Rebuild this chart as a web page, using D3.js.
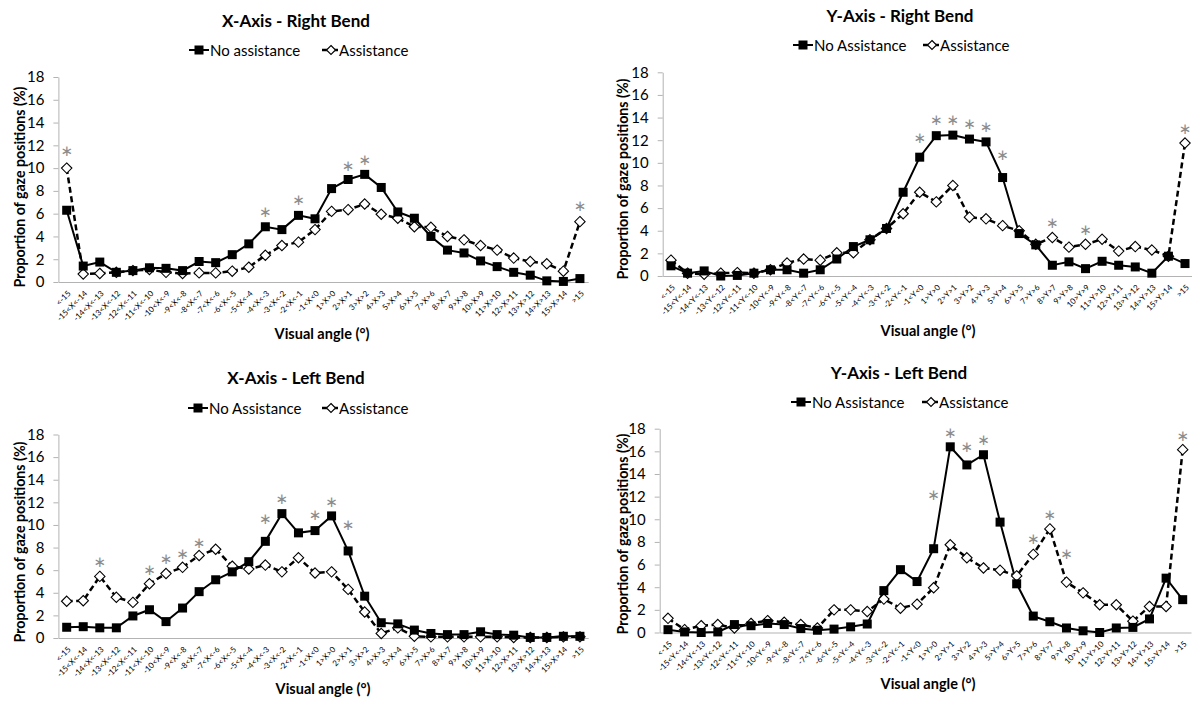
<!DOCTYPE html>
<html><head><meta charset="utf-8">
<script src="https://cdn.jsdelivr.net/npm/d3@7"></script>
<style>body{margin:0;background:#fff}svg{display:block}</style>
</head><body>
<svg id="chart" width="1192" height="701"></svg>
<script>
// ---------- DATA ----------
const xLabels = ["<-15","-15<X<-14","-14<X<-13","-13<X<-12","-12<X<-11","-11<X<-10","-10<X<-9","-9<X<-8","-8<X<-7","-7<X<-6","-6<X<-5","-5<X<-4","-4<X<-3","-3<X<-2","-2<X<-1","-1<X<0","1>X>0","2>X>1","3>X>2","4>X>3","5>X>4","6>X>5","7>X>6","8>X>7","9>X>8","10>X>9","11>X>10","12>X>11","13>X>12","14>X>13","15>X>14",">15"];
const yLabels = ["<-15","-15<Y<-14","-14<Y<-13","-13<Y<-12","-12<Y<-11","-11<Y<-10","-10<Y<-9","-9<Y<-8","-8<Y<-7","-7<Y<-6","-6<Y<-5","-5<Y<-4","-4<Y<-3","-3<Y<-2","-2<Y<-1","-1<Y<0","1>Y>0","2>Y>1","3>Y>2","4>Y>3","5>Y>4","6>Y>5","7>Y>6","8>Y>7","9>Y>8","10>Y>9","11>Y>10","12>Y>11","13>Y>12","14>Y>13","15>Y>14",">15"];
const yTicks = [0,2,4,6,8,10,12,14,16,18];

const titles = ["X-Axis - Right Bend","Y-Axis - Right Bend","X-Axis - Left Bend","Y-Axis - Left Bend"];
const legendNoAssist = ["No assistance","No Assistance","No Assistance","No Assistance"];
const legendAssist = ["Assistance","Assistance","Assistance","Assistance"];
const yAxisTitle = "Proportion of gaze positions (%)";
const xAxisTitle = "Visual angle (°)";

// X-Axis - Right Bend
const xRightNo = [6.3,1.4,1.75,0.85,1.0,1.25,1.2,1.0,1.8,1.7,2.4,3.35,4.85,4.6,5.85,5.55,8.2,9.0,9.45,8.3,6.15,5.6,4.0,2.8,2.55,1.85,1.35,0.85,0.6,0.1,0.05,0.3];
const xRightAs = [10.0,0.7,0.75,0.85,1.0,1.1,0.85,0.75,0.8,0.8,0.95,1.3,2.35,3.2,3.5,4.6,6.2,6.35,6.85,5.95,5.6,4.85,4.8,4.0,3.7,3.2,2.8,2.1,1.8,1.6,0.95,5.3];
const xRightStarIdx = [0,12,14,17,18,31];
const xRightStarVal = [11.5,6.2,7.2,10.25,10.75,6.7];

// Y-Axis - Right Bend
const yRightNo = [0.9,0.25,0.45,0.0,0.05,0.25,0.55,0.55,0.25,0.55,1.5,2.6,3.2,4.2,7.4,10.5,12.4,12.45,12.1,11.85,8.7,3.75,2.75,0.95,1.25,0.65,1.3,0.95,0.8,0.25,1.75,1.1];
const yRightAs = [1.4,0.25,0.15,0.25,0.3,0.25,0.55,1.15,1.5,1.4,2.05,2.05,3.2,4.2,5.5,7.4,6.55,8.0,5.2,5.05,4.45,4.0,2.8,3.4,2.55,2.8,3.25,2.2,2.6,2.3,1.75,11.75];
const yRightStarIdx = [15,16,17,18,19,20,23,25,31];
const yRightStarVal = [12.25,13.85,13.85,13.45,13.2,10.7,4.75,4.1,13.0];

// X-Axis - Left Bend
const xLeftNo = [0.95,1.0,0.9,0.9,1.95,2.5,1.45,2.65,4.1,5.15,5.85,6.75,8.55,11.0,9.3,9.5,10.8,7.7,3.7,1.35,1.25,0.7,0.4,0.3,0.3,0.55,0.3,0.25,0.05,0.05,0.15,0.15];
const xLeftAs = [3.25,3.3,5.45,3.6,3.15,4.8,5.7,6.25,7.3,7.85,6.35,6.1,6.45,5.85,7.1,5.75,5.85,4.3,2.3,0.4,0.9,0.15,0.1,0.1,0.1,0.1,0.1,0.05,0.05,0.05,0.1,0.1];
const xLeftStarIdx = [2,5,6,7,8,12,13,15,16,17];
const xLeftStarVal = [6.8,6.05,7.05,7.5,8.45,10.6,12.35,10.9,12.1,10.0];

// Y-Axis - Left Bend
const yLeftNo = [0.25,0.05,0.0,0.05,0.7,0.6,0.8,0.7,0.35,0.2,0.3,0.5,0.75,3.7,5.55,4.5,7.4,16.4,14.8,15.7,9.75,4.3,1.45,0.95,0.4,0.15,0.0,0.4,0.45,1.2,4.8,2.9];
const yLeftAs = [1.25,0.25,0.6,0.7,0.4,0.8,1.05,0.9,0.7,0.4,2.0,2.0,1.85,2.95,2.15,2.5,3.95,7.75,6.6,5.7,5.5,5.0,6.9,9.15,4.45,3.5,2.45,2.45,1.0,2.3,2.3,16.15];
const yLeftStarIdx = [16,17,18,19,22,23,24,31];
const yLeftStarVal = [12.2,17.65,16.4,17.0,8.25,10.4,7.0,17.35];

// ---------- LAYOUT ----------
const panels = [
  {labels:xLabels, no:xRightNo, as:xRightAs, sIdx:xRightStarIdx, sVal:xRightStarVal,
   x0:58.4, x1:588.2, yb:282, yt:77, titleX:296, titleY:20, legY:50, legX1:189, legX2:322, yTitleX:19, yTitleY:187, xTitleX:322, xTitleY:333},
  {labels:yLabels, no:yRightNo, as:yRightAs, sIdx:yRightStarIdx, sVal:yRightStarVal,
   x0:662.7, x1:1193.3, yb:276, yt:72.3, titleX:900, titleY:15, legY:45, legX1:793, legX2:923, yTitleX:622, yTitleY:179, xTitleX:928, xTitleY:330},
  {labels:xLabels, no:xLeftNo, as:xLeftAs, sIdx:xLeftStarIdx, sVal:xLeftStarVal,
   x0:58.4, x1:588.2, yb:638, yt:434.5, titleX:296, titleY:377, legY:408, legX1:188, legX2:322, yTitleX:19, yTitleY:542, xTitleX:323, xTitleY:688},
  {labels:yLabels, no:yLeftNo, as:yLeftAs, sIdx:yLeftStarIdx, sVal:yLeftStarVal,
   x0:659.7, x1:1191, yb:632.5, yt:428.7, titleX:899, titleY:372, legY:402, legX1:791, legX2:922, yTitleX:622, yTitleY:534, xTitleX:928, xTitleY:683}
];
panels.forEach((p,i)=>{p.title=titles[i]; p.legNo=legendNoAssist[i]; p.legAs=legendAssist[i];});

const FONT = "Lato, 'Open Sans', sans-serif";
const svg = d3.select("#chart");

function diamondPath(r){ return `M0,${-r}L${r},0L0,${r}L${-r},0Z`; }

panels.forEach(p=>{
  const g = svg.append("g");
  const x = d3.scalePoint().domain(d3.range(p.labels.length)).range([p.x0,p.x1]).padding(0.5);
  const y = d3.scaleLinear().domain([0,18]).range([p.yb,p.yt]);

  // title
  g.append("text").attr("x",p.titleX).attr("y",p.titleY).attr("text-anchor","middle")
    .attr("dominant-baseline","central").style("font-family",FONT).style("font-weight","bold")
    .style("font-size","17px").text(p.title);

  // y axis
  const ya = g.append("g").attr("transform",`translate(${p.x0},0)`)
    .call(d3.axisLeft(y).tickValues(yTicks).tickSize(5).tickSizeOuter(0).tickPadding(9));
  ya.select(".domain").attr("stroke","#b3b3b3");
  ya.selectAll(".tick line").attr("stroke","#b3b3b3");
  ya.selectAll(".tick text").style("font-family",FONT).style("font-size","15px").attr("fill","#000");

  // x axis
  const xa = g.append("g").attr("transform",`translate(0,${p.yb})`)
    .call(d3.axisBottom(x).tickSize(0).tickSizeOuter(0).tickFormat(i=>p.labels[i]));
  xa.select(".domain").attr("stroke","#b3b3b3");
  xa.selectAll(".tick text").attr("y",0).attr("dy","0.35em")
    .attr("transform","translate(2,10) rotate(-45)").attr("text-anchor","end")
    .style("font-family",FONT).style("font-size","8px").attr("fill","#000");

  // axis titles
  g.append("text").attr("transform",`translate(${p.yTitleX},${p.yTitleY}) rotate(-90)`)
    .attr("text-anchor","middle").attr("dominant-baseline","central")
    .style("font-family",FONT).style("font-weight","bold").style("font-size","14.2px").text(yAxisTitle);
  g.append("text").attr("x",p.xTitleX).attr("y",p.xTitleY).attr("text-anchor","middle")
    .attr("dominant-baseline","central").style("font-family",FONT).style("font-weight","bold")
    .style("font-size","14.5px").text(xAxisTitle);

  const line = d3.line().x((d,i)=>x(i)).y(d=>y(d));
  // assistance dashed
  g.append("path").datum(p.as).attr("d",line).attr("fill","none").attr("stroke","#000")
    .attr("stroke-width",2.5).attr("stroke-dasharray","6,3.5");
  // no assistance solid
  g.append("path").datum(p.no).attr("d",line).attr("fill","none").attr("stroke","#000")
    .attr("stroke-width",2);

  // diamonds
  g.selectAll(".dia").data(p.as).enter().append("path")
    .attr("transform",(d,i)=>`translate(${x(i)},${y(d)})`).attr("d",diamondPath(5.2))
    .attr("fill","#fff").attr("stroke","#000").attr("stroke-width",1.1);
  // squares
  g.selectAll(".sq").data(p.no).enter().append("rect")
    .attr("x",(d,i)=>x(i)-4.5).attr("y",d=>y(d)-4.5).attr("width",9).attr("height",9).attr("fill","#000");

  // asterisks
  g.selectAll(".star").data(p.sIdx).enter().append("text")
    .attr("x",d=>x(d)).attr("y",(d,k)=>y(p.sVal[k])).attr("dy","0.36em").attr("text-anchor","middle")
    .style("font-family","'DejaVu Sans', sans-serif").style("font-size","15px").attr("fill","#8c8c8c")
    .text("\u2217");

  // legend
  const l1 = g.append("g").attr("transform",`translate(${p.legX1},${p.legY})`);
  l1.append("line").attr("x1",0).attr("x2",20).attr("stroke","#000").attr("stroke-width",2);
  l1.append("rect").attr("x",5.5).attr("y",-4.5).attr("width",9).attr("height",9).attr("fill","#000");
  l1.append("text").attr("x",21).attr("dominant-baseline","central").style("font-family",FONT)
    .style("font-size","15px").text(p.legNo);
  const l2 = g.append("g").attr("transform",`translate(${p.legX2},${p.legY})`);
  l2.append("line").attr("x1",0).attr("x2",16).attr("stroke","#000").attr("stroke-width",2.5);
  l2.append("path").attr("transform","translate(9,0)").attr("d",diamondPath(4.5))
    .attr("fill","#fff").attr("stroke","#000").attr("stroke-width",1.1);
  l2.append("text").attr("x",17).attr("dominant-baseline","central").style("font-family",FONT)
    .style("font-size","15px").text(p.legAs);
});
</script>
</body></html>
